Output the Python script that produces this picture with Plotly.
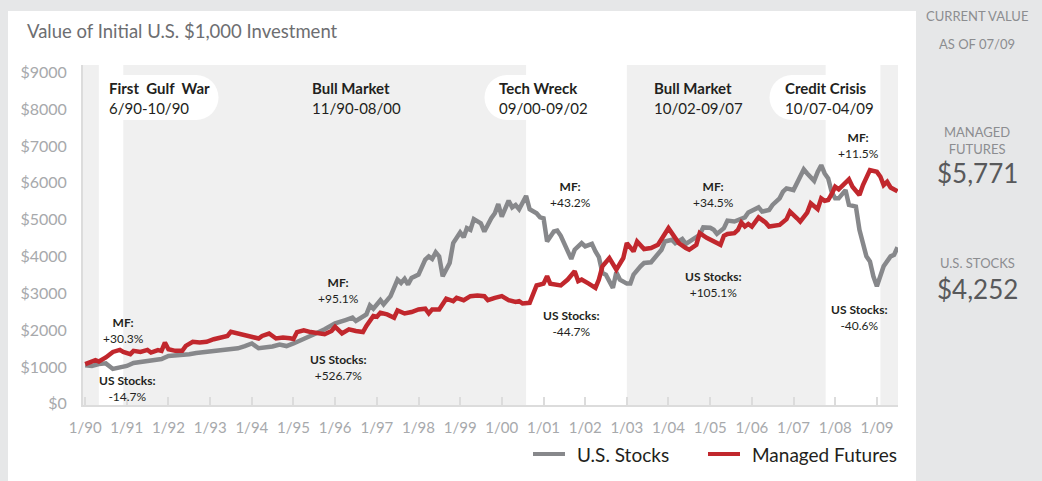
"""Value of an initial $1,000 investment: U.S. stocks vs managed futures, 1990-2009."""

import plotly.graph_objects as go

# --- data -----------------------------------------------------------------
stocks_dates = [
    "1990-01", "1990-03", "1990-05", "1990-07", "1990-09", "1990-11",
    "1991-01", "1991-03", "1991-05", "1991-07", "1991-09", "1991-11",
    "1992-01", "1992-03", "1992-05", "1992-07", "1992-09", "1992-11",
    "1993-01", "1993-03", "1993-05", "1993-07", "1993-09", "1993-11",
    "1994-01", "1994-03", "1994-05", "1994-07", "1994-09", "1994-11",
    "1995-01", "1995-04", "1995-07", "1995-10", "1996-01", "1996-04",
    "1996-06", "1996-07", "1996-10", "1996-11", "1996-12", "1997-02",
    "1997-03", "1997-05", "1997-07", "1997-08", "1997-09", "1997-10",
    "1997-11", "1998-01", "1998-03", "1998-04", "1998-05", "1998-06",
    "1998-07", "1998-08", "1998-10", "1998-11", "1999-01", "1999-02",
    "1999-03", "1999-04", "1999-05", "1999-07", "1999-08", "1999-10",
    "1999-11", "1999-12", "2000-01", "2000-03", "2000-04", "2000-05",
    "2000-06", "2000-08", "2000-09", "2000-11", "2000-12", "2001-01",
    "2001-02", "2001-04", "2001-05", "2001-06", "2001-07", "2001-09",
    "2001-10", "2001-12", "2002-01", "2002-03", "2002-04", "2002-05",
    "2002-06", "2002-07", "2002-09", "2002-10", "2002-11", "2003-01",
    "2003-02", "2003-03", "2003-05", "2003-06", "2003-08", "2003-09",
    "2003-11", "2003-12", "2004-02", "2004-03", "2004-05", "2004-06",
    "2004-08", "2004-10", "2004-11", "2005-01", "2005-02", "2005-03",
    "2005-05", "2005-06", "2005-08", "2005-09", "2005-11", "2005-12",
    "2006-01", "2006-03", "2006-04", "2006-06", "2006-07", "2006-09",
    "2006-10", "2006-11", "2007-01", "2007-02", "2007-04", "2007-05",
    "2007-07", "2007-08", "2007-09", "2007-10", "2007-11", "2007-12",
    "2008-01", "2008-02", "2008-04", "2008-05", "2008-07", "2008-08",
    "2008-10", "2008-11", "2008-12", "2009-01", "2009-02", "2009-03",
    "2009-05", "2009-06", "2009-07",
]
stocks_values = [
    1050, 1030, 1080, 1100, 950, 990,
    1030, 1110, 1140, 1170, 1200, 1220,
    1300, 1310, 1320, 1350, 1380, 1400,
    1420, 1450, 1460, 1490, 1510, 1570,
    1640, 1510, 1530, 1560, 1610, 1570,
    1640, 1755, 1890, 2025, 2185, 2275,
    2340, 2250, 2430, 2675, 2585, 2815,
    2700, 2925, 3375, 3285, 3395, 3240,
    3420, 3510, 3915, 4005, 3935, 4115,
    4005, 3465, 3825, 4365, 4655, 4525,
    4770, 4725, 5015, 4905, 4680, 5040,
    5175, 5425, 5085, 5515, 5335, 5400,
    5285, 5645, 5285, 5175, 5065, 5040,
    4410, 4680, 4705, 4565, 4345, 3935,
    4185, 4365, 4275, 4345, 4140, 3985,
    3555, 3510, 3150, 3575, 3375, 3265,
    3265, 3510, 3735, 3825, 3845, 3960,
    4185, 4410, 4455, 4365, 4475, 4345,
    4455, 4590, 4790, 4780, 4725, 4615,
    4770, 4975, 4950, 4995, 5065, 5195,
    5245, 5335, 5220, 5265, 5400, 5580,
    5760, 5850, 5805, 5985, 6365, 6255,
    6055, 6300, 6480, 6255, 6120, 5760,
    5580, 5580, 5805, 5400, 5355, 4725,
    4005, 3870, 3465, 3195, 3465, 3735,
    4005, 4050, 4252,
]

futures_dates = [
    "1990-01", "1990-04", "1990-05", "1990-07", "1990-09", "1990-11",
    "1990-12", "1991-02", "1991-03", "1991-05", "1991-07", "1991-08",
    "1991-10", "1991-11", "1991-12", "1992-01", "1992-03", "1992-05",
    "1992-06", "1992-08", "1992-10", "1992-12", "1993-02", "1993-04",
    "1993-06", "1993-07", "1993-10", "1993-11", "1994-01", "1994-03",
    "1994-04", "1994-06", "1994-08", "1994-10", "1994-12", "1995-01",
    "1995-02", "1995-04", "1995-06", "1995-08", "1995-10", "1995-12",
    "1996-01", "1996-03", "1996-05", "1996-07", "1996-09", "1996-10",
    "1996-12", "1997-01", "1997-02", "1997-04", "1997-06", "1997-07",
    "1997-09", "1997-11", "1998-01", "1998-03", "1998-04", "1998-05",
    "1998-07", "1998-09", "1998-10", "1998-11", "1998-12", "1999-02",
    "1999-04", "1999-06", "1999-08", "1999-09", "1999-11", "2000-01",
    "2000-03", "2000-05", "2000-06", "2000-07", "2000-09", "2000-10",
    "2000-11", "2001-01", "2001-02", "2001-03", "2001-05", "2001-06",
    "2001-08", "2001-10", "2001-11", "2001-12", "2002-02", "2002-04",
    "2002-05", "2002-06", "2002-08", "2002-10", "2002-12", "2003-01",
    "2003-03", "2003-04", "2003-06", "2003-08", "2003-10", "2003-11",
    "2004-01", "2004-03", "2004-04", "2004-06", "2004-07", "2004-09",
    "2004-10", "2004-12", "2005-01", "2005-02", "2005-04", "2005-05",
    "2005-06", "2005-08", "2005-09", "2005-10", "2005-11", "2005-12",
    "2006-01", "2006-03", "2006-05", "2006-06", "2006-08", "2006-09",
    "2006-11", "2006-12", "2007-02", "2007-03", "2007-05", "2007-06",
    "2007-08", "2007-09", "2007-10", "2007-11", "2007-12", "2008-01",
    "2008-02", "2008-03", "2008-05", "2008-06", "2008-08", "2008-09",
    "2008-11", "2009-01", "2009-02", "2009-03", "2009-04", "2009-05",
    "2009-07",
]
futures_values = [
    1080, 1190, 1150, 1260, 1410, 1465,
    1410, 1350, 1440, 1410, 1465, 1395,
    1460, 1440, 1665, 1485, 1440, 1440,
    1575, 1685, 1665, 1685, 1755, 1800,
    1845, 1955, 1890, 1890, 1825, 1775,
    1845, 1910, 1775, 1800, 1780, 1760,
    1950, 2000, 1950, 1935, 1890, 1980,
    2095, 1915, 2025, 1980, 1950, 2115,
    2385, 2365, 2475, 2430, 2340, 2540,
    2455, 2495, 2565, 2585, 2455, 2565,
    2565, 2855, 2835, 2790, 2880, 2815,
    2925, 2945, 2925, 2815, 2880, 2925,
    2815, 2765, 2790, 2725, 2745, 2970,
    3215, 3265, 3465, 3265, 3240, 3215,
    3375, 3600, 3330, 3375, 3265, 3150,
    3375, 3735, 3960, 3645, 3960, 4365,
    4140, 4410, 4205, 4230, 4320, 4475,
    4770, 4500, 4365, 4230, 4185, 4320,
    4635, 4510, 4455, 4410, 4320, 4565,
    4615, 4635, 4725, 4925, 4815, 4885,
    4815, 5065, 4925, 4815, 4835, 4860,
    5015, 5220, 5040, 4950, 5195, 5445,
    5285, 5580, 5515, 5535, 5695, 5895,
    5825, 5915, 6095, 5895, 5670, 5940,
    6345, 6300, 6165, 5940, 6030, 5875,
    5771,
]

# market periods: header, date span, managed-futures return, stock return
period_names = ["First\u00a0 Gulf\u00a0 War", "Bull Market", "Tech Wreck", "Bull Market", "Credit Crisis"]
period_dates = ["6/90-10/90", "11/90-08/00", "09/00-09/02", "10/02-09/07", "10/07-04/09"]
period_mf = ["+30.3%", "+95.1%", "+43.2%", "+34.5%", "+11.5%"]
period_us = ["-14.7%", "+526.7%", "-44.7%", "+105.1%", "-40.6%"]

# unshaded (white) crisis bands, as drawn on the chart
crisis_start = ["1990-05-01", "2000-08-01", "2007-10-10"]
crisis_end = ["1990-12-01", "2003-01-01", "2009-02-01"]

year_ticks = [f"{y}-01-01" for y in range(1990, 2010)]
year_labels = [
    "1/90", "1/91", "1/92", "1/93", "1/94", "1/95", "1/96", "1/97", "1/98", "1/99",
    "1/00", "1/01", "1/02", "1/03", "1/04", "1/05", "1/06", "1/07", "1/08", "1/09",
]
dollar_ticks = [0, 1000, 2000, 3000, 4000, 5000, 6000, 7000, 8000, 9000]
dollar_labels = ["$0", "$1000", "$2000", "$3000", "$4000", "$5000", "$6000", "$7000", "$8000", "$9000"]

current_labels = ["MANAGED<br>FUTURES", "U.S. STOCKS"]
current_values = ["$5,771", "$4,252"]

# --- styling / layout helpers ----------------------------------------------
FONT = "Lato, 'Open Sans', sans-serif"
GRAY_LINE = "#87888b"
RED_LINE = "#c1272d"
OUTER = "#e6e7e8"
PLOT_BG = "#f0f0f0"
INK = "#231f20"
PANEL_INK = "#8c8d90"
TICK_INK = "#a7a9ac"

W, H = 1042, 481
L, R, T, B = 83, 144, 65, 76
PW, PH = W - L - R, H - T - B


def px(x):
    """Pixel column -> paper x."""
    return (x - L) / PW


def py(y):
    """Pixel row -> paper y."""
    return (H - B - y) / PH


def text(s, x, y, size, color=INK, xanchor="center", align="center"):
    return dict(text=s, x=px(x), y=py(y), xref="paper", yref="paper", xanchor=xanchor,
                yanchor="middle", align=align, showarrow=False,
                font={"size": size, "color": color})


fig = go.Figure()
fig.add_trace(go.Scatter(
    x=stocks_dates, y=stocks_values, name="U.S. Stocks", mode="lines",
    line={"color": GRAY_LINE, "width": 4.5},
))
fig.add_trace(go.Scatter(
    x=futures_dates, y=futures_values, name="Managed Futures", mode="lines",
    line={"color": RED_LINE, "width": 4.5},
))

shapes = [
    # white card, then grey plot background
    dict(type="rect", xref="paper", yref="paper", x0=px(8), x1=px(916), y0=py(500), y1=py(11),
         fillcolor="white", line_width=0, layer="below"),
    dict(type="rect", xref="paper", yref="paper", x0=0, x1=1, y0=0, y1=1,
         fillcolor=PLOT_BG, line_width=0, layer="below"),
]
for s, e in zip(crisis_start, crisis_end):
    shapes.append(dict(type="rect", xref="x", yref="paper", x0=s, x1=e, y0=0, y1=1,
                       fillcolor="white", line_width=0, layer="below"))

# rounded white tabs behind the crisis headers
pill_top, pill_bot = 75, 120
pill_r = (pill_bot - pill_top) / 2
pill_mid = py((pill_top + pill_bot) / 2)
for x0, x1, round_right in [(99, 196, True), (507, 530, False), (792, 828, False)]:
    shapes.append(dict(type="rect", xref="paper", yref="paper", x0=px(x0), x1=px(x1),
                       y0=py(pill_bot), y1=py(pill_top), fillcolor="white", line_width=0,
                       layer="below"))
    cx = x1 if round_right else x0
    shapes.append(dict(type="circle", xref="paper", yref="paper", xsizemode="pixel",
                       ysizemode="pixel", xanchor=px(cx), yanchor=pill_mid,
                       x0=-pill_r, x1=pill_r, y0=-pill_r, y1=pill_r,
                       fillcolor="white", line_width=0, layer="below"))

# hand-built legend (a plotly legend outside the plot would push the margins)
legend_items = [("U.S. Stocks", GRAY_LINE, 533, 575), ("Managed Futures", RED_LINE, 708, 750)]
for _, color, sx, _ in legend_items:
    shapes.append(dict(type="line", xref="paper", yref="paper", x0=px(sx), x1=px(sx + 32),
                       y0=py(454), y1=py(454), line={"color": color, "width": 4}))

annotations = [text("Value of Initial U.S. $1,000 Investment", 25, 31, 18.5, "#6d6e71", "left")]
for name, _, _, tx in legend_items:
    annotations.append(text(name, tx, 454, 19, INK, "left"))

# period headers
header_x = [107, 310, 497, 652, 783]
for name, dates, hx in zip(period_names, period_dates, header_x):
    annotations.append(text(f"<b>{name}</b><br>{dates}", hx, 97.5, 15, INK, "left", "left"))

# period returns
mf_pos = [(123, 330), (338, 290), (570, 194), (713, 194), (858, 145)]
us_pos = [(127, 388), (338, 367), (571, 323), (713, 284), (859, 317)]
for txt, (ax, ay) in zip(period_mf, mf_pos):
    annotations.append(text(f"<b>MF:</b><br>{txt}", ax, ay, 12))
for txt, (ax, ay) in zip(period_us, us_pos):
    annotations.append(text(f"<b>US Stocks:</b><br>{txt}", ax, ay, 12))

# right-hand panel
annotations.append(text("CURRENT VALUE", 977, 16, 13, PANEL_INK))
annotations.append(text("AS OF 07/09", 977, 44, 13, PANEL_INK))
for lab, val, ly, vy in zip(current_labels, current_values, [140, 263], [173, 289]):
    annotations.append(text(lab, 977, ly, 13, PANEL_INK))
    annotations.append(text(val, 977, vy, 26, "#58595b"))

fig.update_layout(
    width=W, height=H,
    margin={"l": L, "r": R, "t": T, "b": B, "autoexpand": False},
    paper_bgcolor=OUTER,
    plot_bgcolor="rgba(0,0,0,0)",
    font={"family": FONT},
    shapes=shapes,
    annotations=annotations,
    showlegend=False,
)
fig.update_xaxes(
    type="date", range=["1989-12-13", "2009-07-05"],
    tickvals=year_ticks, ticktext=year_labels,
    showgrid=False, zeroline=False,
    showline=True, linecolor="#dcdcdc", linewidth=2,
    ticks="inside", ticklen=8, tickwidth=2, tickcolor="#dcdcdc",
    tickfont={"size": 15, "color": TICK_INK}, ticklabelstandoff=8,
)
fig.update_yaxes(
    range=[-30, 9200], tickvals=dollar_ticks, ticktext=dollar_labels,
    showgrid=False, zeroline=False,
    showline=True, linecolor="#dcdcdc", linewidth=2, ticks="",
    tickfont={"size": 16, "color": TICK_INK}, ticklabelstandoff=11,
)

# the page's default body margin would shift the figure; drop it
fig.write_html(
    "out.html",
    config={"displayModeBar": False},
    post_script="document.body.style.margin = '0px';",
)
